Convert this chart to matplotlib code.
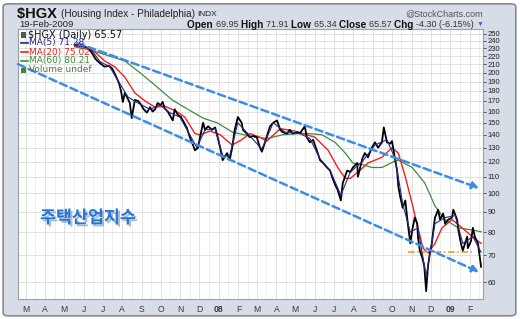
import matplotlib
matplotlib.use("Agg")
import matplotlib.pyplot as plt
import matplotlib.patheffects as pe
from matplotlib.patches import FancyBboxPatch, Rectangle
from matplotlib.ticker import FixedLocator, NullLocator, NullFormatter
import pandas as pd

price_dates = [
    "2007-05-18", "2007-05-26", "2007-06-01", "2007-06-08", "2007-06-14", "2007-06-20",
    "2007-06-27", "2007-07-04", "2007-07-11", "2007-07-16", "2007-07-22", "2007-07-27",
    "2007-07-30", "2007-08-02", "2007-08-05", "2007-08-10", "2007-08-13", "2007-08-16",
    "2007-08-21", "2007-08-26", "2007-08-29", "2007-09-04", "2007-09-09", "2007-09-14",
    "2007-09-18", "2007-09-22", "2007-09-26", "2007-10-01", "2007-10-04", "2007-10-07",
    "2007-10-12", "2007-10-15", "2007-10-20", "2007-10-23", "2007-10-28", "2007-11-02",
    "2007-11-05", "2007-11-11", "2007-11-16", "2007-11-21", "2007-11-24", "2007-11-29",
    "2007-12-02", "2007-12-07", "2007-12-10", "2007-12-15", "2007-12-21", "2007-12-26",
    "2007-12-29", "2008-01-03", "2008-01-07", "2008-01-14", "2008-01-18", "2008-01-22",
    "2008-01-26", "2008-01-31", "2008-02-06", "2008-02-08", "2008-02-14", "2008-02-19",
    "2008-02-24", "2008-03-01", "2008-03-06", "2008-03-09", "2008-03-14", "2008-03-17",
    "2008-03-22", "2008-03-27", "2008-04-02", "2008-04-07", "2008-04-11", "2008-04-18",
    "2008-04-22", "2008-04-27", "2008-05-05", "2008-05-08", "2008-05-16", "2008-05-19",
    "2008-05-24", "2008-05-29", "2008-06-04", "2008-06-09", "2008-06-14", "2008-06-20",
    "2008-06-25", "2008-06-28", "2008-07-03", "2008-07-07", "2008-07-12", "2008-07-15",
    "2008-07-22", "2008-07-27", "2008-07-31", "2008-08-07", "2008-08-08", "2008-08-15",
    "2008-08-19", "2008-08-24", "2008-08-30", "2008-09-04", "2008-09-09", "2008-09-15",
    "2008-09-18", "2008-09-23", "2008-09-28", "2008-10-01", "2008-10-06", "2008-10-09",
    "2008-10-11", "2008-10-14", "2008-10-18", "2008-10-22", "2008-10-26", "2008-10-30",
    "2008-11-02", "2008-11-06", "2008-11-10", "2008-11-11", "2008-11-14", "2008-11-18",
    "2008-11-21", "2008-11-24", "2008-11-27", "2008-11-30", "2008-12-03", "2008-12-05",
    "2008-12-08", "2008-12-13", "2008-12-16", "2008-12-21", "2008-12-24", "2008-12-29",
    "2009-01-04", "2009-01-06", "2009-01-12", "2009-01-14", "2009-01-18", "2009-01-21",
    "2009-01-28", "2009-01-29", "2009-02-03", "2009-02-06", "2009-02-09", "2009-02-14",
    "2009-02-17", "2009-02-19",
]
price_close = [
    234, 236, 233, 230, 224, 216,
    211, 207, 208, 205, 196, 188,
    180, 169, 178, 172, 168, 154,
    171, 170, 168, 162, 159, 164,
    160, 162, 168, 166, 169, 163,
    160, 157, 152, 162, 157, 155,
    152, 146, 138, 132, 128, 130,
    138, 150, 144, 147, 144, 146,
    140, 130, 121, 126, 121, 130,
    144, 155, 150, 144, 141, 138,
    139, 138, 130, 127, 134, 139,
    147, 150, 152, 144, 142, 141,
    144, 141, 142, 141, 147, 138,
    134, 136, 128, 121, 119, 116,
    114, 110, 105, 102, 96, 106,
    114, 113, 116, 119, 110, 122,
    126, 123, 130, 134, 130, 134,
    146, 134, 133, 135, 121, 114,
    104, 98, 92, 96, 84, 75,
    81, 87, 84, 78, 72, 69,
    66, 57, 66, 71, 75, 80,
    87, 91, 86, 89, 84, 86,
    87, 91, 86, 81, 75, 72,
    78, 73, 76, 82, 78, 75,
    69, 65.57,
]

ma5_dates = [
    "2007-05-18", "2007-06-11", "2007-06-27", "2007-07-12", "2007-07-28", "2007-08-10",
    "2007-08-26", "2007-09-14", "2007-09-30", "2007-10-15", "2007-10-31", "2007-11-16",
    "2007-11-27", "2007-12-10", "2007-12-26", "2008-01-07", "2008-01-18", "2008-01-31",
    "2008-02-19", "2008-03-09", "2008-03-27", "2008-04-15", "2008-05-08", "2008-05-24",
    "2008-06-09", "2008-06-25", "2008-07-12", "2008-07-27", "2008-08-15", "2008-09-04",
    "2008-09-23", "2008-10-06", "2008-10-18", "2008-10-30", "2008-11-11", "2008-11-24",
    "2008-12-08", "2008-12-24", "2009-01-09", "2009-01-21", "2009-02-06", "2009-02-19",
]
ma5_values = [
    234, 230, 213, 207, 188, 174,
    168, 162, 166, 159, 155, 140,
    130, 144, 145, 124, 124, 150,
    139, 129, 150, 142, 141, 137,
    122, 114, 99, 113, 120, 132,
    136, 122, 94, 80, 82, 62,
    84, 87, 88, 75, 78, 71.28,
]

ma20_dates = [
    "2007-05-18", "2007-06-03", "2007-06-19", "2007-07-04", "2007-07-20", "2007-08-05",
    "2007-08-21", "2007-09-06", "2007-09-22", "2007-10-07", "2007-10-23", "2007-11-08",
    "2007-11-24", "2007-12-02", "2007-12-18", "2008-01-03", "2008-01-22", "2008-02-06",
    "2008-02-19", "2008-03-06", "2008-03-17", "2008-04-07", "2008-04-30", "2008-06-01",
    "2008-06-22", "2008-07-07", "2008-07-19", "2008-07-27", "2008-08-08", "2008-08-24",
    "2008-09-15", "2008-10-01", "2008-10-11", "2008-10-22", "2008-11-02", "2008-11-11",
    "2008-11-19", "2008-11-27", "2008-12-08", "2008-12-19", "2009-01-04", "2009-01-20",
    "2009-02-05", "2009-02-19",
]
ma20_values = [
    233, 232, 225, 214, 207, 195,
    178, 170, 164, 165, 161, 155,
    141, 140, 143, 140, 132, 136,
    141, 138, 135, 145, 143, 138,
    128, 116, 109, 109, 113, 119,
    123, 130, 126, 110, 94, 82,
    73, 71, 75, 82, 86, 82,
    78, 75.02,
]

ma60_dates = [
    "2007-05-18", "2007-06-11", "2007-07-04", "2007-08-05", "2007-08-29", "2007-09-22",
    "2007-10-19", "2007-11-13", "2007-12-07", "2007-12-29", "2008-01-23", "2008-02-19",
    "2008-03-17", "2008-04-11", "2008-05-08", "2008-05-21", "2008-06-12", "2008-07-03",
    "2008-07-19", "2008-07-31", "2008-08-15", "2008-08-30", "2008-09-15", "2008-10-04",
    "2008-10-11", "2008-11-02", "2008-11-22", "2008-12-08", "2008-12-24", "2009-01-14",
    "2009-02-05", "2009-02-19",
]
ma60_values = [
    232, 228, 222, 214, 200, 186,
    171, 162, 154, 150, 142, 139,
    137, 140, 141, 141, 140, 134,
    126, 119, 118, 116, 116, 120,
    121, 116, 106, 93, 86, 82,
    81, 80.21,
]

# trend channel drawn on the chart (start / end of each arrow)
upper_trend_dates = ["2007-05-22", "2009-02-16"]
upper_trend_values = [237, 103]
lower_trend_dates = ["2007-02-17", "2009-02-16"]
lower_trend_values = [210, 63.6]
support_dates = ["2008-10-26", "2009-02-05"]
support_level = 71.5

y_ticks = list(range(60, 251, 10))
month_labels = ["M", "A", "M", "J", "J", "A", "S", "O", "N", "D", "08", "F",
                "M", "A", "M", "J", "J", "A", "S", "O", "N", "D", "09", "F"]

W, H = 520, 319
HEAD_FONT = ["Liberation Sans", "DejaVu Sans"]


def px(x, y):
    """Pixel position (from top-left) to figure fraction."""
    return x / W, 1 - y / H


fig = plt.figure(figsize=(W / 100, H / 100), dpi=100)
fig.patch.set_facecolor("white")
panel = FancyBboxPatch((0.006, 0.01), 0.986, 0.978, boxstyle="round,pad=0,rounding_size=0.01",
                       transform=fig.transFigure, facecolor="#d7dde6", edgecolor="#858b93",
                       linewidth=1.2, zorder=-5)
fig.patches.append(panel)

ax = fig.add_axes([18 / W, 1 - 299 / H, (483 - 18) / W, (299 - 29) / H])
ax.set_zorder(1)
ax.set_facecolor("white")
ax.set_yscale("log")
ax.set_ylim(54.5, 257)
ax.set_xlim(pd.Timestamp("2007-02-17"), pd.Timestamp("2009-02-22"))

# grid
month_starts = pd.date_range("2007-03-01", periods=len(month_labels), freq="MS")
mid_months = month_starts + pd.Timedelta(days=15)
ax.yaxis.set_major_locator(FixedLocator(y_ticks))
ax.yaxis.set_minor_locator(NullLocator())
ax.yaxis.set_minor_formatter(NullFormatter())
ax.set_yticklabels([str(v) for v in y_ticks])
ax.yaxis.tick_right()
ax.tick_params(axis="y", labelsize=5.5, colors="#222222", length=2, width=0.5, pad=1.5)
for lab in ax.get_yticklabels():
    lab.set_family(HEAD_FONT)
ax.set_xticks(month_starts)
ax.set_xticks(mid_months, minor=True)
ax.set_xticklabels(month_labels)
ax.tick_params(axis="x", which="both", length=0, pad=4, labelsize=6.2, labelcolor="#3a3a3a")
for lab in ax.get_xticklabels():
    lab.set_family(HEAD_FONT)
    if lab.get_text() in ("08", "09"):
        lab.set_fontweight("bold")
ax.grid(True, which="major", color="#dcdcdc", linewidth=0.6)
ax.grid(True, which="minor", axis="x", color="#e8e8e8", linewidth=0.5)
ax.set_axisbelow(True)
for sp in ax.spines.values():
    sp.set_color("#9aa0a8")
    sp.set_linewidth(0.8)

# series
ax.plot(pd.to_datetime(ma60_dates), ma60_values, color="#3c8c3c", linewidth=0.9, zorder=3)
ax.plot(pd.to_datetime(ma20_dates), ma20_values, color="#e8231e", linewidth=1.0, zorder=4)
ax.plot(pd.to_datetime(price_dates), price_close, color="black", linewidth=1.3, zorder=5)
ax.plot(pd.to_datetime(ma5_dates), ma5_values, color="#26288c", linewidth=0.8, zorder=6)

# trend channel and support
for dates, vals in ((upper_trend_dates, upper_trend_values), (lower_trend_dates, lower_trend_values)):
    d = pd.to_datetime(dates)
    ax.annotate("", xy=(d[1], vals[1]), xytext=(d[0], vals[0]),
                arrowprops=dict(arrowstyle="-|>", color="#3a8ee6", linewidth=1.8,
                                linestyle=(0, (3, 1.6)), mutation_scale=10,
                                shrinkA=0, shrinkB=0), zorder=7)
ax.hlines(support_level, pd.Timestamp(support_dates[0]), pd.Timestamp(support_dates[1]),
          color="#f0a030", linewidth=1.2, linestyles=(0, (4, 1.5, 1, 1.5)), zorder=4)

# in-plot legend
fig.patches.append(Rectangle(px(21, 38), 5 / W, 6 / H, transform=fig.transFigure,
                             facecolor="#555555", edgecolor="none", zorder=10))
fig.text(*px(28, 35), "$HGX (Daily) 65.57", fontsize=7, color="#111111", va="center", zorder=10)
legend_rows = [("MA(5) 71.28", "#26288c", 43), ("MA(20) 75.02", "#e8231e", 52),
               ("MA(60) 80.21", "#3c8c3c", 61)]
for label, color, y in legend_rows:
    fig.lines.append(plt.Line2D([21 / W, 28 / W], [1 - y / H] * 2, color=color,
                                linewidth=1.2, transform=fig.transFigure, zorder=10))
    fig.text(*px(29, y), label, fontsize=6.5, color=color, va="center", zorder=10)
fig.patches.append(Rectangle(px(21, 73), 5 / W, 5 / H, transform=fig.transFigure,
                             facecolor="#4c7a4c", edgecolor="none", zorder=10))
fig.text(*px(29, 70), "Volume undef", fontsize=6.5, color="#4c7a4c", va="center", zorder=10)

# korean caption
fig.text(*px(40, 218), "주택산업지수", fontsize=12.5, fontweight="bold", color="#2277dd",
         family=["Noto Sans CJK KR", "DejaVu Sans"], va="center", zorder=10,
         path_effects=[pe.withSimplePatchShadow(offset=(1.5, -1.5), shadow_rgbFace="#7f8fa6", alpha=0.6)])

# header
renderer = fig.canvas.get_renderer()


def run_text(x, y, parts, right=None):
    """Write consecutive text pieces with their own weight/colour.

    If *right* is given the whole run is shifted so it ends there."""
    items = []
    for text, weight, color, fs in parts:
        t = fig.text(*px(x, y), text, fontsize=fs, fontweight=weight, color=color,
                     va="center", family=HEAD_FONT)
        items.append(t)
        x += t.get_window_extent(renderer).width
    if right is not None:
        shift = right - x
        for t in items:
            tx, ty = t.get_position()
            t.set_position((tx + shift / W, ty))


run_text(17, 14, [("$HGX ", "bold", "#111111", 10.5),
                  ("(Housing Index - Philadelphia) ", "normal", "#222222", 7.2),
                  ("INDX", "normal", "#222222", 6)])
fig.text(*px(19, 24.5), "19-Feb-2009", fontsize=6.8, color="#222222", va="center", family=HEAD_FONT)
fig.text(*px(483, 14), "@StockCharts.com", fontsize=6.5, color="#555555", va="center",
         ha="right", family=HEAD_FONT)

header_parts = [("Open ", "bold", "#111111", 7.2), ("69.95 ", "normal", "#333333", 6.5),
                ("High ", "bold", "#111111", 7.2), ("71.91 ", "normal", "#333333", 6.5),
                ("Low ", "bold", "#111111", 7.2), ("65.34 ", "normal", "#333333", 6.5),
                ("Close ", "bold", "#111111", 7.2), ("65.57 ", "normal", "#333333", 6.5),
                ("Chg ", "bold", "#111111", 7.2), ("-4.30 (-6.15%) ", "normal", "#333333", 6.5),
                ("▼", "normal", "#3a6fc4", 5)]
run_text(193, 24.5, header_parts, right=483)

fig.savefig("out.png", dpi=100, facecolor=fig.get_facecolor())
